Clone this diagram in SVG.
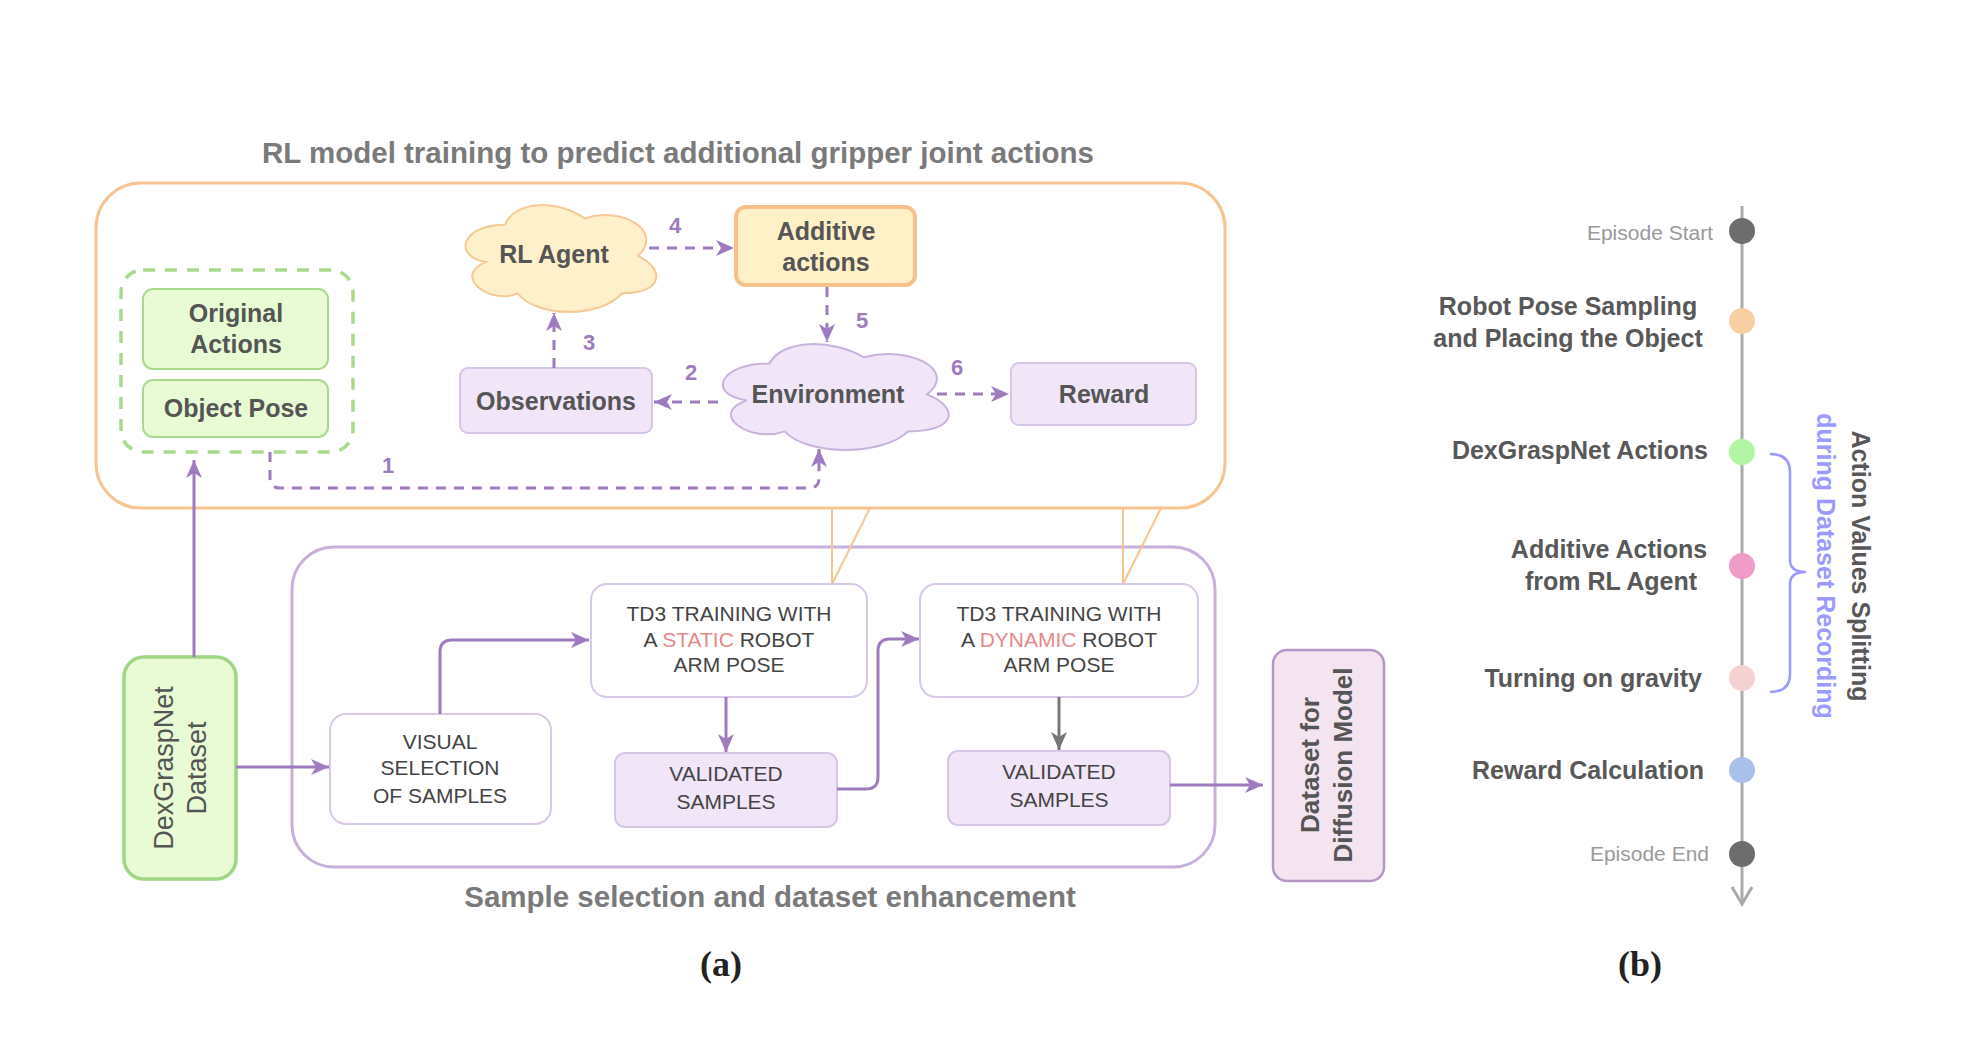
<svg xmlns="http://www.w3.org/2000/svg" width="1966" height="1042" viewBox="0 0 1966 1042">
<style>
text{font-family:"Liberation Sans",Arial,sans-serif}
.lbl{font-size:25px;font-weight:bold;fill:#555;text-anchor:middle}
.cap{font-size:21px;fill:#444;text-anchor:middle}
.title{font-size:29.5px;font-weight:bold;fill:#7a7a7a;text-anchor:middle}
.num{font-size:22px;font-weight:bold;fill:#9e7bbf;text-anchor:middle}
.tl{font-size:25px;font-weight:bold;fill:#585858}
.tls{font-size:21px;fill:#9a9a9a;text-anchor:end}
.sub{font-family:"Liberation Serif","Times New Roman",serif;font-size:36px;font-weight:bold;fill:#222;text-anchor:middle}
.green{fill:#e8fbd4;stroke:#a9d98c;stroke-width:2}
.purp{fill:#f1e5f8;stroke:#d7c5e5;stroke-width:2}
.white{fill:#fff;stroke:#d9c8e8;stroke-width:2}
.dash{fill:none;stroke:#9e7bbf;stroke-width:3;stroke-dasharray:10 8}
.solid{fill:none;stroke:#9e7bbf;stroke-width:3}
.call{fill:none;stroke:#f7c48f;stroke-width:2}
.red{fill:#e8888a}
</style>
<defs>
<marker id="ap" markerUnits="userSpaceOnUse" markerWidth="20" markerHeight="18" refX="18" refY="9" orient="auto">
<path d="M0,1 L18,9 L0,17 L5,9 Z" fill="#9e7bbf"/>
</marker>
<marker id="ag" markerUnits="userSpaceOnUse" markerWidth="20" markerHeight="18" refX="18" refY="9" orient="auto">
<path d="M0,1 L18,9 L0,17 L5,9 Z" fill="#777"/>
</marker>
</defs>
<rect width="1966" height="1042" fill="#fff"/>

<text class="title" x="678" y="163">RL model training to predict additional gripper joint actions</text>
<text class="title" x="770" y="907">Sample selection and dataset enhancement</text>
<text class="sub" x="721" y="976">(a)</text>
<text class="sub" x="1640" y="976">(b)</text>

<g id="rl-container">
<rect x="96" y="183" width="1129" height="325" rx="45" fill="none" stroke="#f7c48f" stroke-width="3"/>
</g>
<g id="sample-container">
<rect x="292" y="547" width="923" height="320" rx="42" fill="none" stroke="#c8b0dc" stroke-width="3"/>
</g>
<g id="callouts">
<path class="call" d="M832,508 L832,584 M870,508 L832,584"/>
<path class="call" d="M1123,508 L1123,584 M1161,508 L1123,584"/>
</g>

<g id="input-group">
<rect x="121" y="270" width="232" height="182" rx="22" fill="none" stroke="#a9d98c" stroke-width="3.5" stroke-dasharray="12 10"/>
</g>
<g id="original-actions">
<rect class="green" x="143" y="289" width="185" height="80" rx="10"/>
<text class="lbl" x="236" y="322">Original</text>
<text class="lbl" x="236" y="353">Actions</text>
</g>
<g id="object-pose">
<rect class="green" x="143" y="380" width="185" height="57" rx="10"/>
<text class="lbl" x="236" y="417">Object Pose</text>
</g>
<g id="rl-agent">
<path d="M25,25 C5,25 0,50 16,55 C0,66 18,90 31,80 C40,100 70,100 80,80 C100,80 100,60 87.5,50 C100,30 80,10 62.5,20 C50,5 30,5 25,25 Z" transform="translate(451.6,193.5) scale(2.13,1.247)" fill="#fdf0cb" stroke="#f5c894" stroke-width="2" vector-effect="non-scaling-stroke"/>
<text class="lbl" x="554" y="263">RL Agent</text>
</g>
<g id="additive-actions">
<rect x="736" y="207" width="179" height="78" rx="10" fill="#fff0c8" stroke="#f5c08a" stroke-width="4"/>
<text class="lbl" x="826" y="240">Additive</text>
<text class="lbl" x="826" y="271">actions</text>
</g>
<g id="observations">
<rect class="purp" x="460" y="368" width="192" height="65" rx="8"/>
<text class="lbl" x="556" y="410">Observations</text>
</g>
<g id="environment">
<path d="M25,25 C5,25 0,50 16,55 C0,66 18,90 31,80 C40,100 70,100 80,80 C100,80 100,60 87.5,50 C100,30 80,10 62.5,20 C50,5 30,5 25,25 Z" transform="translate(706.5,332.6) scale(2.52,1.235)" fill="#f1e5f8" stroke="#c9b2dc" stroke-width="2" vector-effect="non-scaling-stroke"/>
<text class="lbl" x="828" y="403">Environment</text>
</g>
<g id="reward">
<rect class="purp" x="1011" y="363" width="185" height="62" rx="8"/>
<text class="lbl" x="1104" y="403">Reward</text>
</g>

<g id="dexgraspnet-dataset">
<rect x="124" y="657" width="112" height="222" rx="20" fill="#e8fbd4" stroke="#a0d585" stroke-width="3.5"/>
<g transform="translate(180,768) rotate(-90)">
<text x="0" y="-7" style="font-size:27px;fill:#555;text-anchor:middle">DexGraspNet</text>
<text x="0" y="26" style="font-size:27px;fill:#555;text-anchor:middle">Dataset</text>
</g>
</g>
<g id="visual-selection">
<rect class="white" x="330" y="714" width="221" height="110" rx="16"/>
<text class="cap" x="440" y="749">VISUAL</text>
<text class="cap" x="440" y="775">SELECTION</text>
<text class="cap" x="440" y="803">OF SAMPLES</text>
</g>
<g id="td3-static">
<rect class="white" x="591" y="584" width="276" height="113" rx="16"/>
<text class="cap" x="729" y="621">TD3 TRAINING WITH</text>
<text class="cap" x="729" y="647">A <tspan class="red">STATIC</tspan> ROBOT</text>
<text class="cap" x="729" y="672">ARM POSE</text>
</g>
<g id="td3-dynamic">
<rect class="white" x="920" y="584" width="278" height="113" rx="16"/>
<text class="cap" x="1059" y="621">TD3 TRAINING WITH</text>
<text class="cap" x="1059" y="647">A <tspan class="red">DYNAMIC</tspan> ROBOT</text>
<text class="cap" x="1059" y="672">ARM POSE</text>
</g>
<g id="validated-1">
<rect class="purp" x="615" y="753" width="222" height="74" rx="10"/>
<text class="cap" x="726" y="781">VALIDATED</text>
<text class="cap" x="726" y="809">SAMPLES</text>
</g>
<g id="validated-2">
<rect class="purp" x="948" y="751" width="222" height="74" rx="10"/>
<text class="cap" x="1059" y="779">VALIDATED</text>
<text class="cap" x="1059" y="807">SAMPLES</text>
</g>
<g id="diffusion-dataset">
<rect x="1273" y="650" width="111" height="231" rx="14" fill="#f4e4f0" stroke="#b497c6" stroke-width="2.5"/>
<g transform="translate(1328,765) rotate(-90)">
<text class="lbl" x="0" y="-9" style="font-size:26px">Dataset for</text>
<text class="lbl" x="0" y="24" style="font-size:26px">Diffusion Model</text>
</g>
</g>

<g id="connectors">
<path class="dash" d="M649,248 L734,248" marker-end="url(#ap)"/>
<path class="dash" d="M827,287 L827,342" marker-end="url(#ap)"/>
<path class="dash" d="M718,402 L654,402" marker-end="url(#ap)"/>
<path class="dash" d="M554,368 L554,313" marker-end="url(#ap)"/>
<path class="dash" d="M937,394 L1009,394" marker-end="url(#ap)"/>
<path class="dash" d="M270,452 L270,478 Q270,488 280,488 L809,488 Q819,488 819,478 L819,449" marker-end="url(#ap)"/>
<path class="solid" d="M194,657 L194,460" marker-end="url(#ap)"/>
<path class="solid" d="M236,767 L329,767" marker-end="url(#ap)"/>
<path class="solid" d="M440,714 L440,652 Q440,640 452,640 L589,640" marker-end="url(#ap)"/>
<path class="solid" d="M726,697 L726,752" marker-end="url(#ap)"/>
<path class="solid" d="M837,789 L866,789 Q878,789 878,777 L878,651 Q878,639 890,639 L919,639" marker-end="url(#ap)"/>
<path fill="none" stroke="#777" stroke-width="3" d="M1059,697 L1059,750" marker-end="url(#ag)"/>
<path class="solid" d="M1170,785 L1263,785" marker-end="url(#ap)"/>
<text class="num" x="675" y="233">4</text>
<text class="num" x="862" y="328">5</text>
<text class="num" x="691" y="380">2</text>
<text class="num" x="589" y="350">3</text>
<text class="num" x="957" y="375">6</text>
<text class="num" x="388" y="473">1</text>
</g>

<g id="timeline">
<path d="M1742,206 L1742,903" stroke="#aaa" stroke-width="3" fill="none"/>
<path d="M1732,887 L1742,904 L1752,887" stroke="#aaa" stroke-width="3" fill="none"/>
<circle cx="1742" cy="231" r="13" fill="#6d6d6d"/>
<circle cx="1742" cy="321" r="13" fill="#f8cfa2"/>
<circle cx="1742" cy="452" r="13" fill="#b2f5a4"/>
<circle cx="1742" cy="566" r="13" fill="#f09cc8"/>
<circle cx="1742" cy="678" r="13" fill="#f5d2d2"/>
<circle cx="1742" cy="770" r="13" fill="#a9c1ea"/>
<circle cx="1742" cy="854" r="13" fill="#6d6d6d"/>
<text class="tls" x="1713" y="240">Episode Start</text>
<text class="tl" x="1568" y="315" text-anchor="middle">Robot Pose Sampling</text>
<text class="tl" x="1568" y="347" text-anchor="middle">and Placing the Object</text>
<text class="tl" x="1708" y="459" text-anchor="end">DexGraspNet Actions</text>
<text class="tl" x="1609" y="558" text-anchor="middle">Additive Actions</text>
<text class="tl" x="1611" y="590" text-anchor="middle">from RL Agent</text>
<text class="tl" x="1702" y="687" text-anchor="end">Turning on gravity</text>
<text class="tl" x="1704" y="779" text-anchor="end">Reward Calculation</text>
<text class="tls" x="1709" y="861">Episode End</text>
<path d="M1770,454 Q1790,454 1790,472 L1790,560 Q1790,572 1806,572 Q1790,572 1790,584 L1790,674 Q1790,692 1770,692" fill="none" stroke="#9a9aff" stroke-width="2.5"/>
<g transform="translate(1843,566) rotate(90)">
<text class="tl" x="0" y="-9" text-anchor="middle">Action Values Splitting</text>
<text class="tl" x="0" y="26" text-anchor="middle" style="fill:#9a9aff">during Dataset Recording</text>
</g>
</g>
</svg>
